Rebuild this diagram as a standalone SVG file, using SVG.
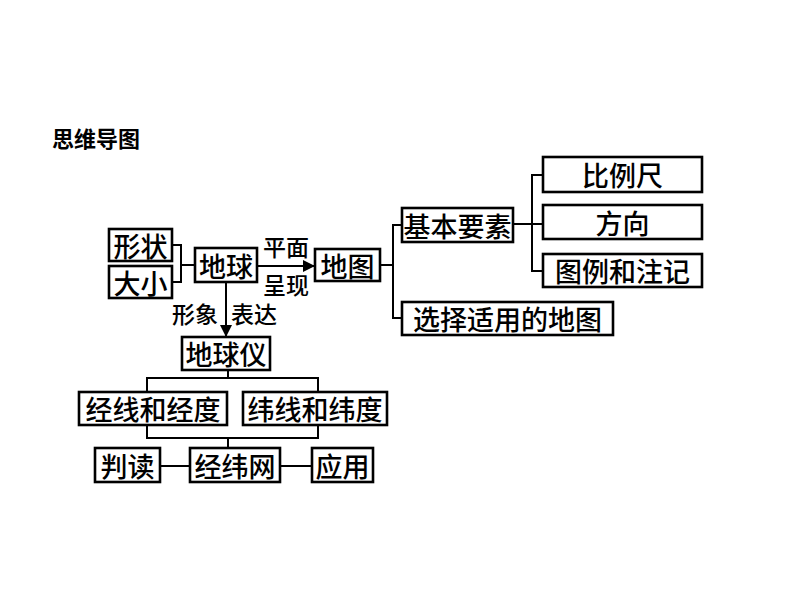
<svg xmlns="http://www.w3.org/2000/svg" width="794" height="596" viewBox="0 0 794 596">
<style>
.box{fill:#fff;stroke:#000;stroke-width:2.6}
.t{font-family:"Noto Sans CJK SC",sans-serif;font-size:27px;font-weight:500;fill:#000;text-anchor:middle;dominant-baseline:central}
.l{font-family:"Noto Sans CJK SC",sans-serif;font-size:23px;font-weight:500;fill:#000;text-anchor:middle;dominant-baseline:central}
.c{fill:none;stroke:#000;stroke-width:2}
</style>
<defs>
<marker id="ah" viewBox="0 0 10 10" refX="10" refY="5" markerWidth="15" markerHeight="12" markerUnits="userSpaceOnUse" orient="auto">
<path d="M0,0 L10,5 L0,10 Z" fill="#000"/>
</marker>
</defs>
<rect width="794" height="596" fill="#fff"/>
<text x="52" y="137" font-family="'Noto Sans CJK SC',sans-serif" font-size="22" font-weight="bold" dominant-baseline="central">思维导图</text>
<g id="connectors">
<path class="c" d="M172,245 H181 V282 H172 M181,265 H195"/>
<path class="c" d="M257,266 H315" marker-end="url(#ah)"/>
<path class="c" d="M226,282 V337" marker-end="url(#ah)"/>
<path class="c" d="M380,265 H393 M402,225 H393 V318 H402"/>
<path class="c" d="M513,224 H543 M543,175 H532 V271 H543"/>
<path class="c" d="M228,370 V378 M147,392 V378 H318 V392 M147,425 V438 H318 V425 M228,438 V448"/>
<path class="c" d="M160,466 H190 M280,466 H312"/>
</g>
<g id="n-xingzhuang"><rect class="box" x="109" y="229" width="63" height="32"/><text class="t" x="140.5" y="245">形状</text></g>
<g id="n-daxiao"><rect class="box" x="109" y="266" width="63" height="32"/><text class="t" x="140.5" y="282">大小</text></g>
<g id="n-diqiu"><rect class="box" x="195" y="248" width="62" height="34"/><text class="t" x="226" y="265">地球</text></g>
<g id="lbl-pingmian"><text class="l" x="286" y="246">平面</text><text class="l" x="286" y="284">呈现</text></g>
<g id="lbl-xingxiang"><text class="l" x="195" y="313">形象</text><text class="l" x="254" y="313">表达</text></g>
<g id="n-ditu"><rect class="box" x="315" y="249" width="65" height="32"/><text class="t" x="347.5" y="265">地图</text></g>
<g id="n-jiben"><rect class="box" x="402" y="208" width="111" height="34"/><text class="t" x="457.5" y="225">基本要素</text></g>
<g id="n-xuanze"><rect class="box" x="402" y="302" width="211" height="33"/><text class="t" x="507.5" y="318.5">选择适用的地图</text></g>
<g id="n-bilichi"><rect class="box" x="543" y="157" width="159" height="35"/><text class="t" x="622.5" y="174.5">比例尺</text></g>
<g id="n-fangxiang"><rect class="box" x="543" y="205" width="159" height="34"/><text class="t" x="622.5" y="222">方向</text></g>
<g id="n-tuli"><rect class="box" x="543" y="254" width="159" height="33"/><text class="t" x="622.5" y="270.5">图例和注记</text></g>
<g id="n-diqiuyi"><rect class="box" x="182" y="337" width="88" height="33"/><text class="t" x="226" y="353.5">地球仪</text></g>
<g id="n-jingxian"><rect class="box" x="79" y="392" width="148" height="33"/><text class="t" x="153" y="408.5">经线和经度</text></g>
<g id="n-weixian"><rect class="box" x="243" y="392" width="144" height="33"/><text class="t" x="315" y="408.5">纬线和纬度</text></g>
<g id="n-pandu"><rect class="box" x="95" y="448" width="65" height="34"/><text class="t" x="127.5" y="465">判读</text></g>
<g id="n-jingweiwang"><rect class="box" x="190" y="448" width="90" height="34"/><text class="t" x="235" y="465">经纬网</text></g>
<g id="n-yingyong"><rect class="box" x="312" y="448" width="61" height="34"/><text class="t" x="342.5" y="465">应用</text></g>
</svg>
